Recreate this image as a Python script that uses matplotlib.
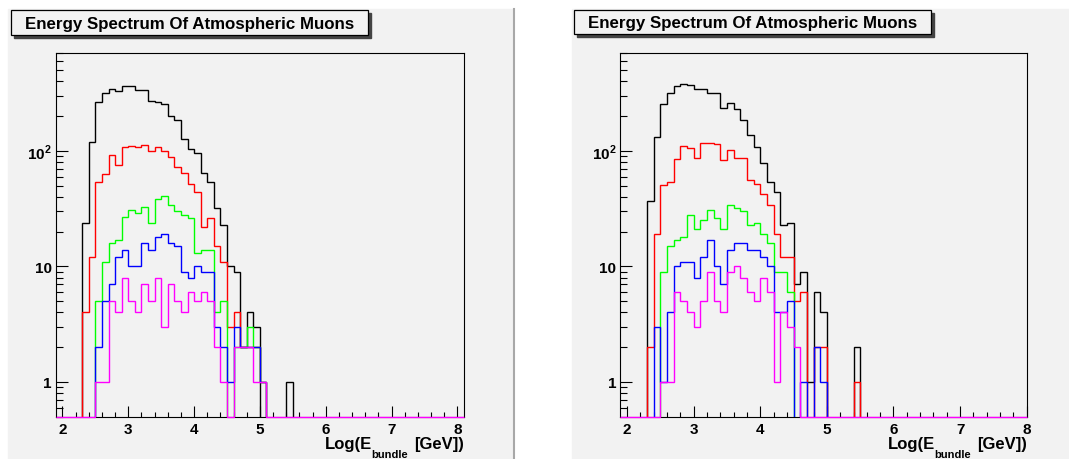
import numpy as np
import matplotlib
matplotlib.use('agg')
import matplotlib.pyplot as plt
from matplotlib.patches import Rectangle
from matplotlib.ticker import LogLocator, MultipleLocator, NullFormatter

plt.rcParams['font.family'] = ['Liberation Sans', 'DejaVu Sans']
plt.rcParams['font.weight'] = 'bold'
plt.rcParams['mathtext.fontset'] = 'custom'
plt.rcParams['mathtext.rm'] = 'Liberation Sans:bold'
plt.rcParams['mathtext.bf'] = 'Liberation Sans:bold'

W, H = 1069, 460
PAD_GRAY = '#f2f2f2'

# histogram bins of 0.1 in log10(E); counts listed from the bin starting at 2.3
x_low = 1.9
bin_width = 0.1
first_bin = 2.3

# left panel
left_black = [24, 119, 264, 318, 344, 333, 367, 367, 336, 336, 270, 264, 254, 200, 187, 126,
              104, 96, 65, 54, 32, 23, 10, 9, 2, 4, 3, 0, 0, 0, 0, 1]
left_red = [4, 12, 54, 63, 93, 76, 109, 111, 109, 113, 99, 109, 99, 88, 72, 65,
            52, 44, 22, 26, 15, 11, 3, 4, 2, 2, 2, 1, 0, 0, 0, 0]
left_green = [0, 0, 5, 11, 16, 17, 27, 31, 29, 33, 24, 38, 41, 34, 30, 28,
              26, 13, 14, 14, 4, 5, 0, 2, 2, 3, 2, 1, 0, 0, 0, 0]
left_blue = [0, 0, 2, 5, 7, 12, 14, 10, 10, 16, 14, 18, 19, 16, 15, 9,
             8, 10, 9, 9, 3, 2, 1, 3, 2, 2, 2, 1, 0, 0, 0, 0]
left_magenta = [0, 0, 1, 1, 5, 4, 8, 5, 4, 7, 5, 8, 3, 7, 5, 4,
                6, 5, 6, 5, 2, 1, 0, 2, 2, 2, 1, 1, 0, 0, 0, 0]

# right panel
right_black = [37, 133, 253, 315, 366, 376, 372, 343, 343, 319, 319, 233, 258, 229, 186, 136,
               109, 79, 54, 44, 23, 24, 7, 9, 1, 6, 4, 0, 0, 0, 0, 2]
right_red = [2, 19, 51, 54, 85, 110, 105, 86, 118, 118, 114, 84, 102, 87, 87, 56,
             52, 42, 34, 19, 12, 12, 5, 6, 0, 2, 2, 0, 0, 0, 0, 1]
right_green = [0, 0, 9, 15, 17, 18, 28, 21, 25, 31, 26, 21, 34, 32, 30, 23,
               24, 19, 16, 9, 9, 6, 0, 0, 0, 0, 0, 0, 0, 0, 0, 0]
right_blue = [0, 3, 1, 4, 10, 11, 11, 8, 12, 17, 10, 7, 14, 16, 16, 14,
              14, 12, 10, 4, 4, 5, 0, 1, 0, 2, 1, 0, 0, 0, 0, 0]
right_magenta = [0, 0, 1, 1, 6, 5, 4, 3, 5, 9, 5, 4, 9, 10, 8, 6,
                 5, 8, 6, 1, 4, 3, 2, 0, 0, 0, 0, 0, 0, 0, 0, 0]

colors = ['black', '#ff0000', '#00ff00', '#0000ff', '#ff00ff']
title = 'Energy Spectrum Of Atmospheric Muons'
y_min, y_max = 0.5, 700


def fx(px):
    return px / W


def fy(py):
    return 1 - py / H


def full_counts(counts, n_bins):
    out = np.zeros(n_bins)
    start = int(round((first_bin - x_low) / bin_width))
    out[start:start + len(counts)] = counts
    return out


def draw_panel(fig, pad, frame, box, x_high, series):
    # pad background
    fig.patches.append(Rectangle((fx(pad[0]), 0), fx(pad[1]) - fx(pad[0]), fy(pad[2]),
                                 transform=fig.transFigure, color=PAD_GRAY, zorder=-2))
    # title box with shadow
    bx0, bx1, by0, by1 = box
    fig.patches.append(Rectangle((fx(bx0 + 3), fy(by1 + 3)), fx(bx1) - fx(bx0), fy(by0) - fy(by1),
                                 transform=fig.transFigure, color='#444444', zorder=1))
    fig.patches.append(Rectangle((fx(bx0), fy(by1)), fx(bx1) - fx(bx0), fy(by0) - fy(by1),
                                 transform=fig.transFigure, facecolor=PAD_GRAY,
                                 edgecolor='black', lw=0.9, zorder=2))
    fig.text(fx((bx0 + bx1) / 2), fy((by0 + by1) / 2 + 0.5), title, ha='center', va='center',
             fontsize=12.2, fontweight='bold', zorder=3)

    x0, x1, y0, y1 = frame
    ax = fig.add_axes([fx(x0), fy(y1), fx(x1) - fx(x0), fy(y0) - fy(y1)])
    ax.set_zorder(5)
    ax.set_facecolor('none')
    ax.set_yscale('log')
    ax.set_xlim(x_low, x_high)
    ax.set_ylim(y_min, y_max)

    n_bins = int(round((x_high - x_low) / bin_width))
    edges = x_low + bin_width * np.arange(n_bins + 1)
    last = len(series) - 1
    for i, (counts, c) in enumerate(zip(series, colors)):
        vals = full_counts(counts, n_bins)
        if i == last:
            # the last drawn histogram sits on the lower frame where it is empty
            vals = np.where(vals > 0, vals, y_min)
            ax.stairs(vals, edges, baseline=None, color=c, lw=1.0, clip_on=False,
                      zorder=3 + 0.1 * i)
        else:
            vals = np.where(vals > 0, vals, y_min * 0.8)
            ax.stairs(vals, edges, baseline=None, color=c, lw=1.0, zorder=3 + 0.1 * i)

    ax.xaxis.set_major_locator(MultipleLocator(1))
    ax.xaxis.set_minor_locator(MultipleLocator(0.2))
    ax.set_yticks([1, 10, 100], ['1', '10', r'$10^{2}$'])
    ax.yaxis.set_minor_locator(LogLocator(base=10, subs=np.arange(2, 10)))
    ax.yaxis.set_minor_formatter(NullFormatter())
    ax.tick_params(axis='both', which='both', direction='in', top=False, right=False,
                   width=0.8, color='black')
    ax.tick_params(axis='x', which='major', length=7.7, pad=4, labelsize=11)
    ax.tick_params(axis='x', which='minor', length=3.4)
    ax.tick_params(axis='y', which='major', length=8.6, pad=3, labelsize=11)
    ax.tick_params(axis='y', which='minor', length=5)
    for s in ax.spines.values():
        s.set_linewidth(0.8)
        s.set_color('black')

    # axis title: Log(E_bundle [GeV]) right-aligned to the frame
    ax.annotate('[GeV])', xy=(1, 0), xycoords='axes fraction', xytext=(0, -31),
                textcoords='offset pixels', ha='right', va='baseline', fontsize=12)
    ax.annotate('bundle', xy=(1, 0), xycoords='axes fraction', xytext=(-56, -40),
                textcoords='offset pixels', ha='right', va='baseline', fontsize=8)
    ax.annotate('Log(E', xy=(1, 0), xycoords='axes fraction', xytext=(-92, -31),
                textcoords='offset pixels', ha='right', va='baseline', fontsize=12)
    return ax


fig = plt.figure(figsize=(W / 100, H / 100), dpi=100)
fig.patch.set_facecolor('white')

draw_panel(fig, pad=(8, 513, 9.5), frame=(55.9, 463.9, 54.3, 417.7),
           box=(11.4, 367.6, 11, 36), x_high=8.1,
           series=[left_black, left_red, left_green, left_blue, left_magenta])
draw_panel(fig, pad=(571.5, 1069, 10), frame=(620.4, 1026.7, 54.3, 417.7),
           box=(574.3, 930.5, 10.7, 35), x_high=8.0,
           series=[right_black, right_red, right_green, right_blue, right_magenta])

# divider at the right edge of the left pad
fig.add_artist(plt.Line2D([fx(514), fx(514)], [0, fy(9.5)], transform=fig.transFigure,
                          color='#a8a8a8', lw=1.5))

fig.savefig('out.png', dpi=100)
